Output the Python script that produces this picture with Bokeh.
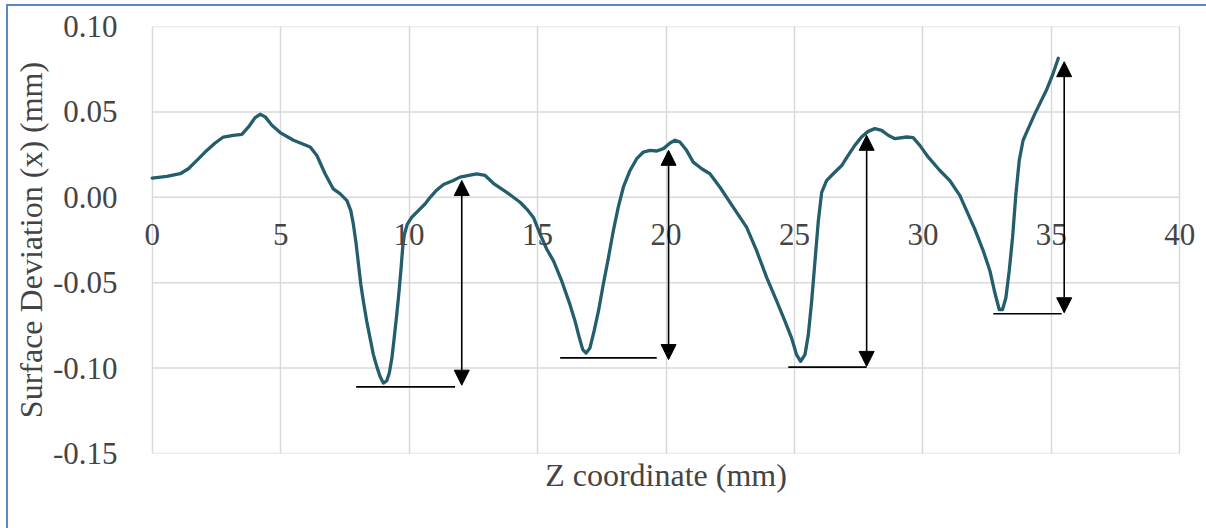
from bokeh.plotting import figure
from bokeh.models import (Range1d, LinearAxis, FixedTicker, Arrow, NormalHead, ColumnDataSource,
                          CustomJSTickFormatter)
from bokeh.embed import file_html
from bokeh.resources import INLINE

# ---- data ----
z_mm = [0, 0.57, 1.09, 1.41, 1.74, 2.06, 2.45, 2.77, 3.16, 3.49, 3.75, 4.01, 4.2, 4.4, 4.66,
        4.98, 5.5, 6.15, 6.41, 6.73, 7.05, 7.32, 7.58, 7.73, 7.83, 7.94, 8.03, 8.12, 8.22,
        8.35, 8.48, 8.61, 8.74, 8.87, 9.0, 9.13, 9.23, 9.33, 9.42, 9.52, 9.61, 9.69, 9.75,
        9.82, 9.93, 10.1, 10.36, 10.62, 10.82, 11.08, 11.34, 11.72, 11.98, 12.63, 12.96,
        13.28, 13.8, 14.32, 14.58, 14.84, 15.1, 15.36, 15.62, 15.94, 16.26, 16.46, 16.63,
        16.76, 16.89, 17.04, 17.2, 17.37, 17.56, 17.76, 17.95, 18.14, 18.34, 18.6, 18.86,
        19.12, 19.38, 19.64, 19.9, 20.16, 20.35, 20.54, 20.8, 21.06, 21.39, 21.71, 22.1,
        22.62, 23.14, 23.53, 23.92, 24.31, 24.63, 24.89, 25.08, 25.24, 25.41, 25.54, 25.67,
        25.8, 25.93, 26.06, 26.25, 26.51, 26.84, 27.09, 27.35, 27.61, 27.87, 28.13, 28.39,
        28.65, 28.91, 29.37, 29.62, 29.88, 30.21, 30.66, 31.05, 31.44, 31.7, 32.02, 32.35,
        32.61, 32.8, 32.97, 33.1, 33.23, 33.36, 33.49, 33.62, 33.75, 33.9, 34.1, 34.36,
        34.81, 35.07, 35.27]
deviation_mm = [0.0112, 0.0122, 0.0138, 0.0167, 0.0216, 0.0265, 0.0318, 0.0353, 0.0363,
                0.0369, 0.0412, 0.0467, 0.0486, 0.0471, 0.0422, 0.0379, 0.0334, 0.0294,
                0.0245, 0.0138, 0.0049, 0.0020, -0.0019, -0.0078, -0.0157, -0.0274, -0.0392,
                -0.0509, -0.0608, -0.0725, -0.0824, -0.0921, -0.0990, -0.1049, -0.1088,
                -0.1074, -0.1029, -0.0941, -0.0824, -0.0686, -0.0549, -0.0412, -0.0294,
                -0.0215, -0.0157, -0.0118, -0.0078, -0.0039, 0.0, 0.0043, 0.0075, 0.0098,
                0.0118, 0.0137, 0.0128, 0.0082, 0.0029, -0.0029, -0.0069, -0.0118, -0.0216,
                -0.0304, -0.0372, -0.0490, -0.0627, -0.0725, -0.0824, -0.0892, -0.0912,
                -0.0882, -0.0784, -0.0667, -0.0509, -0.0353, -0.0196, -0.0059, 0.0059,
                0.0157, 0.0226, 0.0265, 0.0275, 0.0271, 0.0285, 0.0318, 0.0334, 0.0324,
                0.0275, 0.0206, 0.0167, 0.0138, 0.0059, -0.0059, -0.0176, -0.0314, -0.0470,
                -0.0608, -0.0725, -0.0824, -0.0921, -0.0960, -0.0921, -0.0804, -0.0608,
                -0.0372, -0.0137, 0.0029, 0.0098, 0.0138, 0.0186, 0.0245, 0.0304, 0.0353,
                0.0386, 0.0402, 0.0392, 0.0363, 0.0343, 0.0353, 0.0349, 0.0304, 0.0235,
                0.0157, 0.0098, 0.0010, -0.0078, -0.0186, -0.0314, -0.0431, -0.0559,
                -0.0657, -0.0657, -0.0588, -0.0431, -0.0235, 0.0020, 0.0216, 0.0334,
                0.0402, 0.0490, 0.0628, 0.0726, 0.0814]

arrow_x = [12.05, 20.1, 27.81, 35.5]
arrow_top = [0.0098, 0.0275, 0.0363, 0.0794]
arrow_bottom = [-0.110, -0.095, -0.099, -0.0676]
base_x0 = [7.94, 15.88, 24.76, 32.74]
base_x1 = [11.79, 19.64, 27.81, 35.4]
base_y = [-0.111, -0.094, -0.0994, -0.0682]

x_ticks = [0, 5, 10, 15, 20, 25, 30, 35, 40]
x_tick_labels = ["0", "5", "10", "15", "20", "25", "30", "35", "40"]
y_ticks = [-0.15, -0.10, -0.05, 0.0, 0.05, 0.10]
y_tick_labels = ["-0.15", "-0.10", "-0.05", "0.00", "0.05", "0.10"]

FONT = "Liberation Serif"
TICK_FONT = "serif"
TICK_FS = "31px"
LABEL_FS = "32px"
GRID = "#d9d9d9"
X_MIN, X_MAX = 0, 40

# the frame is one unit wider on each side so that the end tick labels are not clipped;
# the plotting area itself is bounded by the gridlines at 0 and 40.
p = figure(frame_width=1079, frame_height=427,
           min_border_left=118, min_border_right=1, min_border_top=20, min_border_bottom=75,
           x_range=Range1d(X_MIN - 1, X_MAX + 1), y_range=Range1d(-0.15, 0.10),
           x_axis_location=None, y_axis_location="left",
           output_backend="svg", toolbar_location=None)
p.margin = (4, 0, 0, 6)
p.styles = {"border-left": "2px solid #5b87c5", "border-top": "2px solid #5b87c5"}

p.background_fill_color = "white"
p.border_fill_color = "white"
p.outline_line_color = None

# y axis
ya = p.yaxis[0]
ya.ticker = FixedTicker(ticks=y_ticks)
ya.formatter = CustomJSTickFormatter(
    args=dict(yt=y_ticks, yl=y_tick_labels),
    code="const i = yt.findIndex(t => Math.abs(t - tick) < 1e-9); return i >= 0 ? yl[i] : '';")
ya.axis_label = "Surface Deviation (x) (mm)"
ya.axis_label_text_font = FONT
ya.axis_label_text_font_size = LABEL_FS
ya.axis_label_text_font_style = "normal"
ya.axis_label_standoff = 1
ya.major_label_text_font = TICK_FONT
ya.major_label_text_font_size = TICK_FS
ya.major_label_text_font_style = "normal"
ya.major_label_standoff = 3
ya.axis_line_color = None
ya.major_tick_line_color = None
ya.minor_tick_line_color = None

# horizontal axis crossing at y = 0 (tick labels only)
xa = LinearAxis(ticker=FixedTicker(ticks=x_ticks), fixed_location=0)
xa.formatter = CustomJSTickFormatter(
    args=dict(xt=x_ticks, xs=x_tick_labels),
    code="const i = xt.findIndex(t => Math.abs(t - tick) < 1e-9); return i >= 0 ? xs[i] : '';")
xa.major_label_text_font = TICK_FONT
xa.major_label_text_font_size = TICK_FS
xa.major_label_text_font_style = "normal"
xa.major_label_standoff = 21
xa.axis_line_color = None
xa.major_tick_line_color = None
xa.minor_tick_line_color = None
p.add_layout(xa, "below")

# x axis title at bottom
xl = LinearAxis(ticker=FixedTicker(ticks=[]), axis_label="Z coordinate (mm)")
xl.axis_label_text_font = FONT
xl.axis_label_text_font_size = LABEL_FS
xl.axis_label_text_font_style = "normal"
xl.axis_label_standoff = 3
xl.axis_line_color = None
xl.major_tick_line_color = None
xl.minor_tick_line_color = None
xl.major_label_text_color = None
p.add_layout(xl, "below")

# gridlines: vertical via Grid, horizontal as segments bounded to [0, 40]
p.xgrid.ticker = FixedTicker(ticks=x_ticks)
p.xgrid.grid_line_color = GRID
p.xgrid.grid_line_width = 1.5
p.ygrid.grid_line_color = None
p.segment(x0=[X_MIN] * len(y_ticks), y0=y_ticks, x1=[X_MAX] * len(y_ticks), y1=y_ticks,
          line_color=GRID, line_width=1.5)

# curve
p.line(z_mm, deviation_mm, line_color="#245e6c", line_width=3.3, line_join="round", line_cap="round")

# baselines
p.segment(x0=base_x0, y0=base_y, x1=base_x1, y1=base_y, line_color="black", line_width=1.6)

# double-headed arrows
src = ColumnDataSource(dict(x=arrow_x, y0=arrow_bottom, y1=arrow_top))
p.add_layout(Arrow(x_start="x", y_start="y0", x_end="x", y_end="y1", source=src,
                   line_color="black", line_width=1.6,
                   start=NormalHead(size=15, fill_color="black", line_color="black"),
                   end=NormalHead(size=15, fill_color="black", line_color="black")))

open("out.html", "w").write(file_html(p, INLINE))
